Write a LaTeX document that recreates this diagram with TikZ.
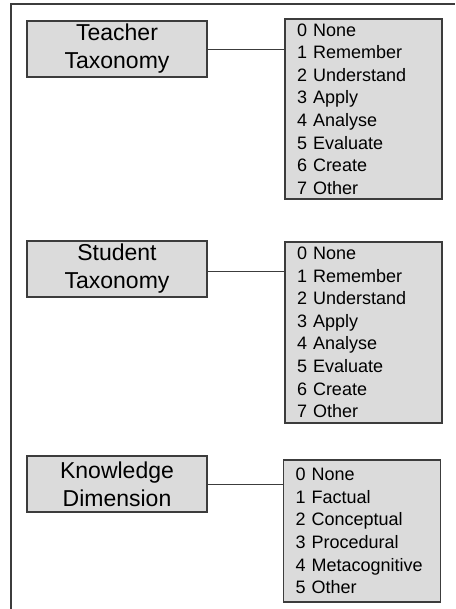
\documentclass[tikz,border=0pt]{standalone}
\usepackage{fontspec}
\setmainfont{Liberation Sans}
\usetikzlibrary{positioning}

\definecolor{boxfill}{RGB}{219,219,219}
\definecolor{boxline}{RGB}{60,60,60}

\begin{document}
\begin{tikzpicture}[x=1pt,y=-1pt,
  dimbox/.style={draw=boxline, line width=1.4pt, fill=boxfill, minimum width=180pt, minimum height=56pt,
    inner sep=0pt, align=center, font=\fontsize{23}{28}\selectfont},
  listbox/.style={draw=boxline, line width=1.4pt, fill=boxfill, text width=133pt, inner xsep=12pt, inner ysep=0pt,
    align=left, font=\fontsize{18}{22.6}\selectfont},
  link/.style={draw=boxline, line width=0.9pt}]
\useasboundingbox (0,0) rectangle (455,609);
% frame
\draw[boxline, line width=1.4pt] (11,609) -- (11,4) -- (455,4);
\begin{scope}
\node[dimbox] (1) at (117,49) {Teacher\\Taxonomy};
\node[listbox, minimum height=180pt] (2) at (363.5,109) {0 None\\1 Remember\\2 Understand\\3 Apply\\4 Analyse\\5 Evaluate\\6 Create\\7 Other};
\path[link] (1.east) -- (1.east -| 2.west);
\end{scope}
\begin{scope}
\node[dimbox] (3) at (117,269) {Student\\Taxonomy};
\node[listbox, minimum height=181pt] (4) at (363.5,332.5) {0 None\\1 Remember\\2 Understand\\3 Apply\\4 Analyse\\5 Evaluate\\6 Create\\7 Other};
\path[link] ([yshift=-2pt]3.east) -- ([yshift=-2pt]3.east -| 4.west);
\end{scope}
\begin{scope}
\node[dimbox] (5) at (117,484) {Knowledge\\Dimension};
\node[listbox, minimum height=142pt] (6) at (362,531) {0 None\\1 Factual\\2 Conceptual\\3 Procedural\\4 Metacognitive\\5 Other};
\path[link] (5.east) -- (5.east -| 6.west);
\end{scope}
\end{tikzpicture}
\end{document}
